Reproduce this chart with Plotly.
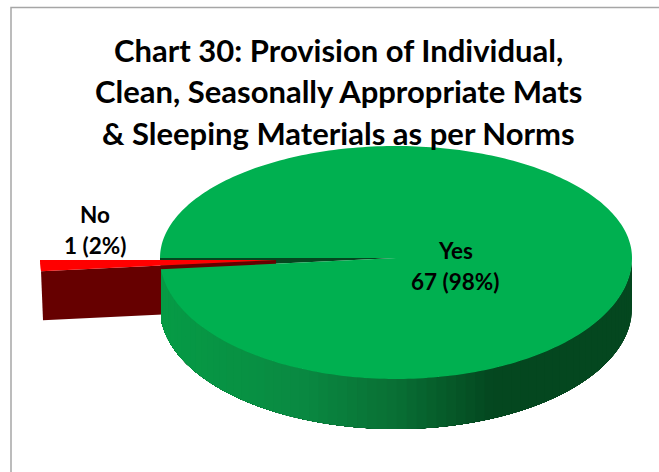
import numpy as np
import plotly.graph_objects as go

categories = ["Yes", "No"]
counts = [67, 1]
percent_labels = [98, 2]
title_lines = ["Chart 30: Provision of Individual,",
               "Clean, Seasonally Appropriate Mats",
               "& Sleeping Materials as per Norms"]

# pixel-like canvas for the oblique pie projection
CX, CY, RX, R_BACK, R_FRONT, DEPTH = 396, 258, 236, 112, 121, 50
EXPLODE = 120
FONT = "Lato"


def project(theta, radius=1.0, dx=0.0, dy=0.0):
    """theta in degrees, 0 = right, 90 = toward viewer (down)."""
    th = np.radians(theta)
    u, v = radius * np.cos(th), radius * np.sin(th)
    y = np.where(v >= 0, R_FRONT * v, R_BACK * v)
    return CX + RX * u + dx, CY + y + dy


no_span = 360 * counts[1] / sum(counts)
no_start = 180 - no_span
fig = go.Figure()


def poly(xs, ys, color):
    fig.add_trace(go.Scatter(x=list(xs), y=list(ys), mode="none", fill="toself",
                             fillcolor=color, hoverinfo="skip", showlegend=False))


def side_color(x):
    stops_x = [160, 300, 400, 490, 632]
    stops = np.array([[6, 156, 70], [10, 138, 66], [9, 110, 52], [4, 72, 32], [4, 71, 31]])
    return "rgb(%d,%d,%d)" % tuple(np.interp(x, stops_x, stops[:, i]) for i in range(3))


# visible cut wall of the large slice
gx, gy = project(np.linspace(no_start, 180, 6))
poly([CX, *gx], [CY, *gy], "#04471f")

# exploded small slice: wall, then top face
ax, ay = CX - EXPLODE, CY + 2
ox, oy = project(np.linspace(no_start, 180, 8), dx=-EXPLODE, dy=2)
poly([ox[0], ox[0] + 2, ax, ax], [oy[0], oy[0] + DEPTH - 1, ay + DEPTH - 1, ay], "#660000")
poly([ax, *ox], [ay, *oy], "#ff0000")

# front wall of the large slice: painted from the far end, each strip
# overlapping the previous one so no seams show
edges = np.linspace(0, no_start, 73)
for t0, t1 in zip(edges[:-1], edges[1:]):
    ts = np.linspace(t0, no_start, 60)
    x, y = project(ts)
    cx_strip = float(project(np.array([(t0 + t1) / 2]))[0][0])
    poly([*x, *x[::-1]], [*y, *(y[::-1] + DEPTH)], side_color(cx_strip))

# top face of the large slice
tx, ty = project(np.linspace(180, 360 + no_start, 300))
poly([CX, *tx], [CY, *ty], "#00b050")


def text(x, y, s, size):
    fig.add_annotation(x=x, y=y, text=s, showarrow=False, xanchor="center", yanchor="middle",
                       font=dict(family=FONT, size=size, color="#000000", weight="bold"))


for yy, line in zip([50, 91, 133], title_lines):
    text(338, yy, line, 31)

label_pos = {"Yes": (455, 250), "No": (95, 214)}
for cat, n, pct in zip(categories, counts, percent_labels):
    lx, ly = label_pos[cat]
    text(lx, ly, cat, 22.5)
    text(lx, ly + 31, f"{n} ({pct}%)", 22.5)

fig.update_layout(
    width=659, height=472, margin=dict(l=0, r=0, t=0, b=0),
    paper_bgcolor="white", plot_bgcolor="white", showlegend=False,
    xaxis=dict(range=[0, 659], visible=False, fixedrange=True),
    yaxis=dict(range=[472, 0], visible=False, fixedrange=True),
    shapes=[dict(type="rect", xref="x", yref="y", x0=11, y0=7.5, x1=720, y1=520,
                 line=dict(color="#a6a6a6", width=1.5), layer="below")],
)
fig.write_html("out.html", config=dict(displayModeBar=False),
               post_script="document.body.style.margin='0';document.body.style.overflow='hidden';")
